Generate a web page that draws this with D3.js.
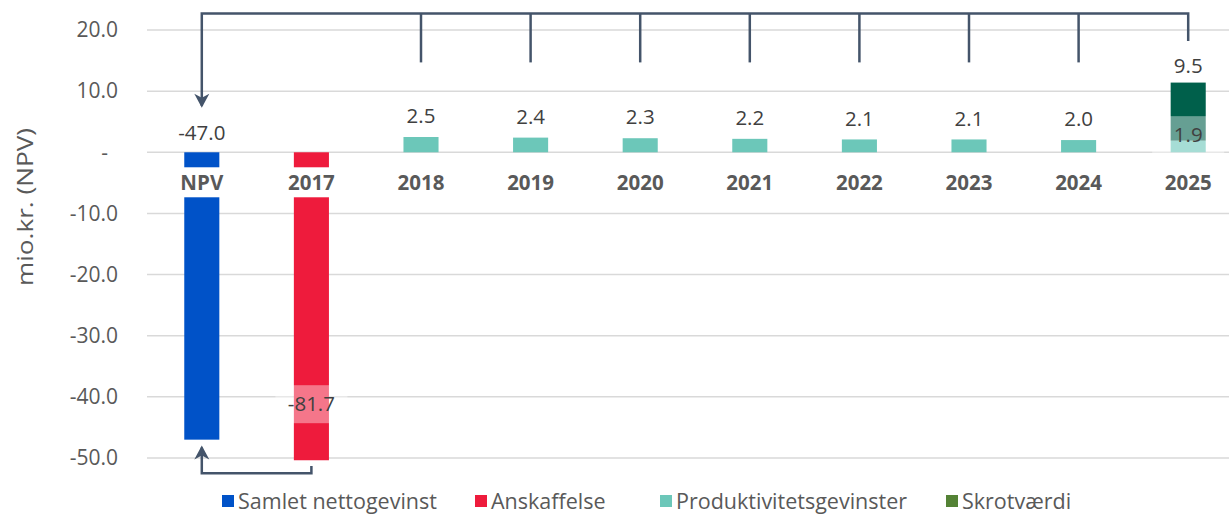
<!DOCTYPE html>
<html>
<head>
<meta charset="utf-8">
<script src="https://cdn.jsdelivr.net/npm/d3@7"></script>
<style>
  body { margin: 0; background: #fff; }
  svg { font-family: "Open Sans", Lato, sans-serif; }
</style>
</head>
<body>
<div id="chart"></div>
<script>
// Data
const categories = ["NPV", "2017", "2018", "2019", "2020", "2021", "2022", "2023", "2024", "2025"];
const netto = [-47.0, 0, 0, 0, 0, 0, 0, 0, 0, 0];          // Samlet nettogevinst
const anskaffelse = [0, -81.7, 0, 0, 0, 0, 0, 0, 0, 0];     // Anskaffelse
const produktivitet = [0, 0, 2.5, 2.4, 2.3, 2.2, 2.1, 2.1, 2.0, 1.9];
const skrot = [0, 0, 0, 0, 0, 0, 0, 0, 0, 9.5];
const yTicks = [20, 10, 0, -10, -20, -30, -40, -50];
const legendItems = [
  { name: "Samlet nettogevinst", color: "#0052c8" },
  { name: "Anskaffelse", color: "#ee1b3c" },
  { name: "Produktivitetsgevinster", color: "#6cc7b9" },
  { name: "Skrotværdi", color: "#548235" }
];

const width = 1229;
const height = 514;
const arrowColor = "#44546a";
const fmt = v => d3.format(".1f")(v).replace("\u2212", "-");

const svg = d3.select("#chart")
  .append("svg")
  .attr("width", width)
  .attr("height", height);

const x = d3.scaleBand()
  .domain(categories)
  .range([147, 1243])
  .paddingInner(0.68)
  .paddingOuter(0.34);

const y = d3.scaleLinear()
  .domain([-50, 20])
  .range([458, 30]);

// Arrow marker
const defs = svg.append("defs");
defs.append("marker")
  .attr("id", "head")
  .attr("viewBox", "-16 -9 18 18")
  .attr("refX", -2)
  .attr("refY", 0)
  .attr("markerWidth", 18)
  .attr("markerHeight", 18)
  .attr("markerUnits", "userSpaceOnUse")
  .attr("orient", "auto")
  .append("path")
  .attr("d", "M0,0 L-14,-7.5 L-10,0 L-14,7.5 Z")
  .attr("fill", arrowColor);

defs.append("clipPath")
  .attr("id", "plot")
  .append("rect")
  .attr("x", 0)
  .attr("y", 0)
  .attr("width", width)
  .attr("height", y(-50.35));

// Gridlines
svg.append("g")
  .selectAll("line")
  .data(yTicks)
  .enter()
  .append("line")
  .attr("x1", 147)
  .attr("x2", width)
  .attr("y1", d => y(d))
  .attr("y2", d => y(d))
  .attr("stroke", "#d9d9d9")
  .attr("stroke-width", 1.5);

// Y axis labels
svg.append("g")
  .selectAll("text")
  .data(yTicks)
  .enter()
  .append("text")
  .attr("x", d => d === 0 ? 108 : 118)
  .attr("y", d => y(d))
  .attr("dy", "0.35em")
  .attr("text-anchor", "end")
  .attr("fill", "#595959")
  .style("font-size", "21px")
  .text(d => d === 0 ? "-" : fmt(d));

svg.append("text")
  .attr("transform", `translate(25,207) rotate(-90)`)
  .attr("text-anchor", "middle")
  .attr("dy", "0.35em")
  .attr("fill", "#595959")
  .style("font-size", "21.5px")
  .attr("textLength", 158)
  .attr("lengthAdjust", "spacingAndGlyphs")
  .text("mio.kr. (NPV)");

// Bars
const bars = svg.append("g").attr("clip-path", "url(#plot)");
const bw = x.bandwidth();

function drawSeries(values, color, base) {
  bars.selectAll(null)
    .data(categories.map((c, i) => ({ c, v: values[i], b: base ? base[i] : 0 })))
    .enter()
    .filter(d => d.v !== 0)
    .append("rect")
    .attr("x", d => x(d.c))
    .attr("width", bw)
    .attr("y", d => y(Math.max(d.b, d.b + d.v)))
    .attr("height", d => Math.abs(y(d.b) - y(d.b + d.v)))
    .attr("fill", color);
}
drawSeries(netto, "#0052c8");
drawSeries(anskaffelse, "#ee1b3c");
drawSeries(produktivitet, "#6cc7b9");
drawSeries(skrot, "#00604b", produktivitet);

// Category labels with white background band
const cat = svg.append("g");
cat.selectAll("rect")
  .data(categories)
  .enter()
  .append("rect")
  .attr("x", d => x(d) + bw / 2 - 30)
  .attr("width", 60)
  .attr("y", y(0) + 15)
  .attr("height", 30)
  .attr("fill", "#fff");
cat.selectAll("text")
  .data(categories)
  .enter()
  .append("text")
  .attr("x", d => x(d) + bw / 2)
  .attr("y", y(0) + 31)
  .attr("dy", "0.35em")
  .attr("text-anchor", "middle")
  .attr("fill", "#595959")
  .style("font-size", "20.5px")
  .style("font-weight", "bold")
  .text(d => d);

// Value labels
const labels = svg.append("g")
  .attr("fill", "#404040")
  .style("font-size", "20.5px")
  .attr("text-anchor", "middle");

function label(cat, yPos, text, boxed) {
  const cx = x(cat) + bw / 2;
  if (boxed) {
    labels.append("rect")
      .attr("x", cx - 36)
      .attr("width", 72)
      .attr("y", yPos - 19)
      .attr("height", 38)
      .attr("fill", "#fff")
      .attr("fill-opacity", 0.4);
  }
  labels.append("text")
    .attr("x", cx)
    .attr("y", yPos)
    .attr("dy", "0.35em")
    .text(text);
}

label("NPV", y(0) - 19, fmt(netto[0]));
label("2017", y(-41.2), fmt(anskaffelse[1]), true);
categories.forEach((c, i) => {
  if (produktivitet[i] && !skrot[i]) label(c, y(produktivitet[i]) - 21, fmt(produktivitet[i]));
});
label("2025", y(2.8), fmt(produktivitet[9]), true);
label("2025", y(produktivitet[9] + skrot[9]) - 17, fmt(skrot[9]));

// Arrows: top bracket from year bars to NPV
const topY = y(22.7);
const arrows = svg.append("g")
  .attr("fill", "none")
  .attr("stroke", arrowColor)
  .attr("stroke-width", 2.5);

const cx = c => x(c) + bw / 2;
arrows.append("path")
  .attr("d", `M${cx("2025")},${y(18.2)} V${topY} H${cx("NPV")} V${y(7.6)}`)
  .attr("marker-end", "url(#head)");

arrows.selectAll("line")
  .data(categories.slice(2, 9))
  .enter()
  .append("line")
  .attr("x1", d => cx(d))
  .attr("x2", d => cx(d))
  .attr("y1", topY)
  .attr("y2", y(14.7));

// Bottom arrow from 2017 to NPV
arrows.append("path")
  .attr("d", `M${cx("2017")},${y(-51.3)} V${y(-52.5)} H${cx("NPV")} V${y(-48.3)}`)
  .attr("marker-end", "url(#head)");

// Legend
const legendX = [222, 475, 660, 946];
const legend = svg.append("g")
  .selectAll("g")
  .data(legendItems)
  .enter()
  .append("g")
  .attr("transform", (d, i) => `translate(${legendX[i]},495)`);

legend.append("rect")
  .attr("width", 12)
  .attr("height", 12)
  .attr("fill", d => d.color);

legend.append("text")
  .attr("x", 16)
  .attr("y", 6)
  .attr("dy", "0.35em")
  .attr("fill", "#595959")
  .style("font-size", "21.5px")
  .text(d => d.name);
</script>
</body>
</html>
